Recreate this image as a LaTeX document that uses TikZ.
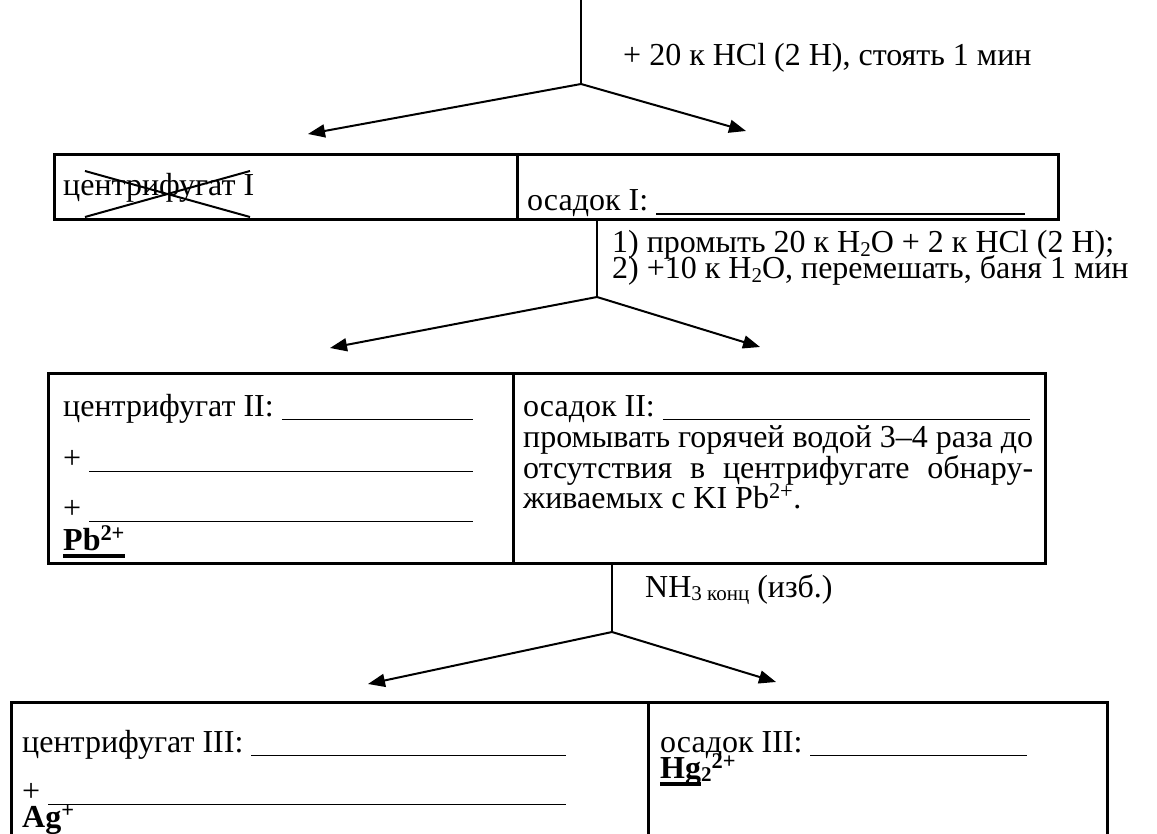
\documentclass[tikz,border=0pt]{standalone}
\usepackage{fontspec}
\setmainfont{Liberation Serif}
\usetikzlibrary{arrows.meta}
\usetikzlibrary{positioning}

\providecommand{\TextSize}{32}
% blank line to be filled in, up to a given width
\newcommand{\fillin}[2]{\makebox[#1pt][l]{#2\leaders\hrule height -2.5pt depth 4pt\hfill}}
% justified line of a given width
\newcommand{\justline}[2]{\makebox[#1pt][s]{#2}}
% small lowered index (H2O, NH3)
\newcommand{\lowidx}[1]{\raisebox{-3.5pt}{\fontsize{21}{21}\selectfont #1}}
% thick underline for the detected ion
\newcommand{\ionmark}[1]{\setbox0=\hbox{#1}\rlap{\rule[-7.5pt]{\wd0}{3.5pt}}\box0}

\begin{document}
\begin{tikzpicture}[x=1pt, y=-1pt,
  cell/.style={draw, line width=2.6pt, anchor=north west, inner sep=0pt},
  txt/.style={anchor=base west, inner sep=0pt, font=\fontsize{\TextSize}{38}\selectfont},
  stem/.style={line width=2.4pt},
  branch/.style={line width=2pt, -{Triangle[length=17pt,width=13pt]}}]

\useasboundingbox (0,0) rectangle (1157,834);

% Step 1: HCl
\coordinate (in1) at (581,-4);
\coordinate (j1) at (581,84);
\coordinate (a1l) at (308,134);
\coordinate (a1r) at (746,131);
\draw[stem] (in1) -- (j1);
\draw[branch] (j1) -- (a1l);
\draw[branch] (j1) -- (a1r);
\node[txt] (hcl) at (623,66) {+ 20 к HCl (2 Н), стоять 1 мин};

\node[cell, minimum width=463pt, minimum height=65pt] (cent1) at (53,153) {};
\node[cell, minimum width=541pt, minimum height=65pt] (osad1) at (516,153) {};
\node[txt] (cent1t) at (63,196) {центрифугат I};
\node[txt] (osad1t) at (527,211) {\fillin{498}{осадок I: }};
% crossed out
\draw[line width=2pt] (85,171) -- (250,217) (85,217) -- (250,171);

% Step 2: washing
\coordinate (j2) at (597,297);
\coordinate (a2l) at (330,348);
\coordinate (a2r) at (760,347);
\draw[stem] (j2 |- osad1.south) -- (j2);
\draw[branch] (j2) -- (a2l);
\draw[branch] (j2) -- (a2r);
\node[txt] (wash1) at (612,253) {1) промыть 20 к H\lowidx{2}O + 2 к HCl (2 Н);};
\node[txt] (wash2) at (612,279) {2) +10 к H\lowidx{2}O, перемешать, баня 1 мин};

\node[cell, minimum width=465pt, minimum height=190pt] (cent2) at (47,372) {};
\node[cell, minimum width=532pt, minimum height=190pt] (osad2) at (512,372) {};
\node[txt] (cent2a) at (63,416) {\fillin{410}{центрифугат II: }};
\node[txt] (cent2b) at (63,468) {\fillin{410}{+ }};
\node[txt] (cent2c) at (63,518) {\fillin{410}{+ }};
\node[txt] (pb) at (63,550) {\ionmark{\textbf{Pb\textsuperscript{2+}}}};
\node[txt] (osad2a) at (523,416) {\fillin{507}{осадок II: }};
\node[txt] (osad2b) at (523,447) {\justline{510}{промывать горячей водой 3–4 раза до}};
\node[txt] (osad2c) at (523,478) {\justline{510}{отсутствия в центрифугате обнару-}};
\node[txt] (osad2d) at (523,508) {живаемых с KI Pb\textsuperscript{2+}.};

% Step 3: ammonia
\coordinate (j3) at (612,632);
\coordinate (a3l) at (368,684);
\coordinate (a3r) at (776,682);
\draw[stem] (j3 |- osad2.south) -- (j3);
\draw[branch] (j3) -- (a3l);
\draw[branch] (j3) -- (a3r);
\node[txt] (nh3) at (645,597) {NH\lowidx{3 конц} (изб.)};

\node[cell, minimum width=637pt, minimum height=140pt] (cent3) at (10,701) {};
\node[cell, minimum width=459pt, minimum height=140pt] (osad3) at (647,701) {};
\node[txt] (cent3a) at (22,752) {\fillin{544}{центрифугат III: }};
\node[txt] (cent3b) at (22,801) {\fillin{544}{+ }};
\node[txt] (ag) at (22,827) {\textbf{Ag\textsuperscript{+}}};
\node[txt] (osad3a) at (660,752) {\fillin{367}{осадок III: }};
\node[txt] (hg) at (660,778) {\textbf{\ionmark{Hg}\lowidx{2}\textsuperscript{2+}}};

\end{tikzpicture}
\end{document}
